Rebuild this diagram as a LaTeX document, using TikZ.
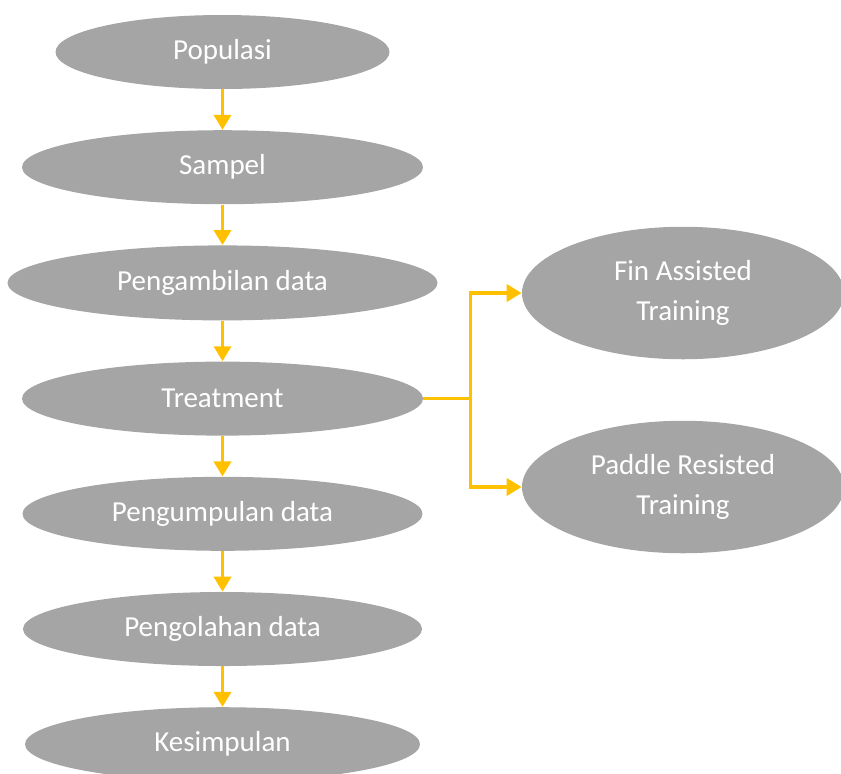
\documentclass[tikz,border=0pt]{standalone}
\usepackage{fontspec}
\setmainfont{Carlito}
\usepackage{xcolor}
\usepackage{tikz}
\usetikzlibrary{positioning,shapes.geometric,arrows.meta}

\definecolor{stepgray}{HTML}{A5A5A5}
\definecolor{flowgold}{HTML}{FFC000}

\tikzset{
  stage/.style={ellipse, fill=stepgray, text=white, inner sep=0pt,
    minimum height=1.48cm, font=\fontsize{16.5}{22.8}\selectfont},
  branch/.style={stage, minimum width=6.44cm, minimum height=2.65cm, align=center},
  flow/.style={draw=flowgold, line width=2pt, -{Triangle[length=0.3cm,width=0.34cm]}}
}

\begin{document}
\begin{tikzpicture}[node distance=0.81cm]
            \useasboundingbox (0,0) rectangle (16.82,-15.46);

            \node [stage, minimum width=6.68cm] (pop) at (4.45,-1.04) {Populasi};
            \node [stage, minimum width=8.02cm] (samp) [below=of pop] {Sampel};
            \node [stage, minimum width=8.60cm, minimum height=1.5cm] (ambil) [below=of samp] {Pengambilan data};
            \node [stage, minimum width=8.02cm] (treat) [below=of ambil] {Treatment};
            \node [stage, minimum width=8.0cm] (kumpul) [below=of treat] {Pengumpulan data};
            \node [stage, minimum width=7.98cm] (olah) [below=of kumpul] {Pengolahan data};
            \node [stage, minimum width=7.9cm] (simpul) [below=of olah] {Kesimpulan};

            \node [branch] (fin) at (13.66,-5.86) {Fin Assisted\\Training};
            \node [branch] (paddle) at (13.66,-9.74) {Paddle Resisted\\Training};

            \coordinate (split) at ([xshift=0.94cm]treat.east);

            \draw [flow] (pop) -- (samp);
            \draw [flow] (samp) -- (ambil);
            \draw [flow] (ambil) -- (treat);
            \draw [flow] (treat) -- (kumpul);
            \draw [flow] (kumpul) -- (olah);
            \draw [flow] (olah) -- (simpul);

            \draw [flow, -] (treat.east) -- (split);
            \draw [flow] (split) |- (fin);
            \draw [flow] (split) |- (paddle);
        \end{tikzpicture}
\end{document}
